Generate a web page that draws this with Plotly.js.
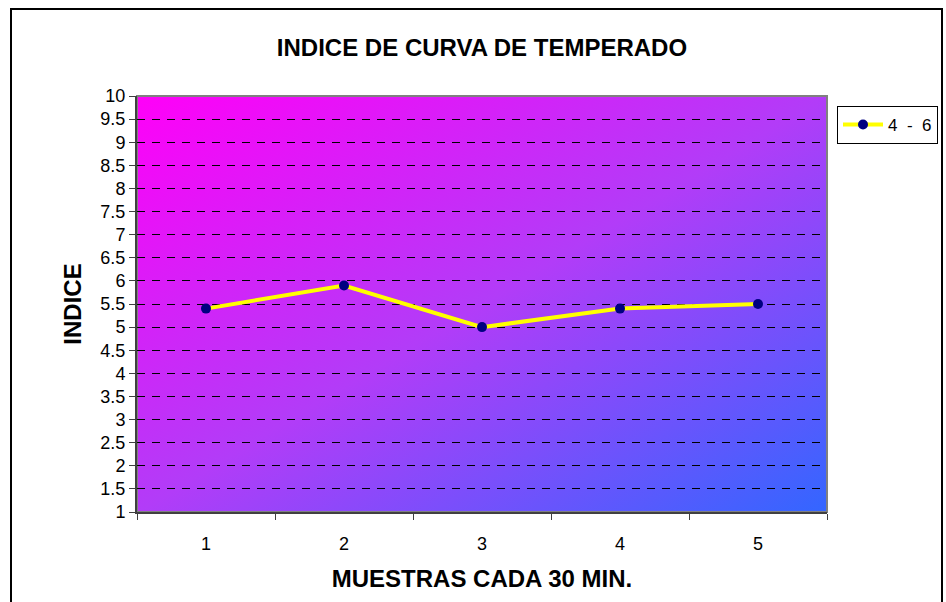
<!DOCTYPE html>
<html>
<head>
<meta charset="utf-8">
<script src="https://cdn.plot.ly/plotly-3.0.1.min.js"></script>
<style>
html,body{margin:0;padding:0;background:#fff;}
#chart{width:946px;height:602px;position:relative;}
#frame{position:absolute;left:10px;top:8px;width:933px;height:600px;border:2px solid #000;box-sizing:border-box;pointer-events:none;z-index:5;}
</style>
</head>
<body>
<div id="chart"></div>
<div id="frame"></div>
<script>
const categories = [1, 2, 3, 4, 5];
const seriesName = "4 &nbsp;- &nbsp;6";
const values = [5.4, 5.9, 5.0, 5.4, 5.5];
const yTickVals = [1,1.5,2,2.5,3,3.5,4,4.5,5,5.5,6,6.5,7,7.5,8,8.5,9,9.5,10];
const yTickText = yTickVals.map(v => String(v));

const gradSvg = '<svg xmlns="http://www.w3.org/2000/svg" width="690" height="416" viewBox="0 0 690 416" preserveAspectRatio="none">' +
  '<defs><linearGradient id="g" x1="0" y1="0" x2="1" y2="1">' +
  '<stop offset="0" stop-color="#FF00F8"/><stop offset="0.5" stop-color="#B23CF8"/><stop offset="1" stop-color="#3366FF"/>' +
  '</linearGradient></defs><rect width="690" height="416" fill="url(#g)"/></svg>';
const gradUri = 'data:image/svg+xml;charset=utf-8,' + encodeURIComponent(gradSvg);

const trace = {
  x: categories,
  y: values,
  name: seriesName,
  type: 'scatter',
  mode: 'lines+markers',
  line: {color: '#FFFF00', width: 4},
  marker: {color: '#000080', size: 10, line: {width: 0}},
  showlegend: true
};

const layout = {
  width: 946,
  height: 602,
  margin: {l: 137, r: 119, t: 96, b: 90},
  paper_bgcolor: 'rgba(0,0,0,0)',
  plot_bgcolor: 'rgba(0,0,0,0)',
  font: {family: 'Liberation Sans, Arial, sans-serif', color: '#000', size: 18},
  title: {
    text: '<b>INDICE DE CURVA DE TEMPERADO</b>',
    font: {family: 'Liberation Sans, Arial, sans-serif', size: 24, color: '#000'},
    x: 0.5, xref: 'paper', xanchor: 'center',
    y: 1 - 48/602, yref: 'container', yanchor: 'middle'
  },
  xaxis: {
    range: [0.5, 5.5],
    tickvals: categories,
    ticktext: categories.map(String),
    ticks: '',
    ticklabelstandoff: 14,
    showgrid: false,
    zeroline: false,
    showline: true,
    linecolor: '#404040',
    linewidth: 2,
    minor: {tick0: 0.5, dtick: 1, ticks: 'outside', ticklen: 6, tickwidth: 1, tickcolor: '#404040', showgrid: false},
    tickfont: {family: 'Liberation Sans, Arial, sans-serif', size: 18, color: '#000'},
    title: {text: '<b>MUESTRAS CADA 30 MIN.</b>', font: {size: 24, color: '#000'}, standoff: 18}
  },
  yaxis: {
    range: [1, 10],
    tickvals: yTickVals,
    ticktext: yTickText,
    ticks: 'outside',
    ticklen: 6,
    tickcolor: '#404040',
    tickwidth: 1,
    showgrid: true,
    gridcolor: '#000',
    gridwidth: 1,
    griddash: '8px,7px',
    zeroline: false,
    showline: true,
    linecolor: '#404040',
    linewidth: 2,
    tickfont: {family: 'Liberation Sans, Arial, sans-serif', size: 18, color: '#000'},
    title: {text: '<b>INDICE</b>', font: {size: 24, color: '#000'}, standoff: 12}
  },
  legend: {
    x: 837/946, xref: 'container', xanchor: 'left',
    y: 1 - 106/602, yref: 'container', yanchor: 'top',
    bgcolor: '#fff',
    bordercolor: '#000',
    borderwidth: 1,
    font: {size: 17, color: '#000'},
    itemwidth: 40,
    tracegroupgap: 0
  },
  images: [{
    source: gradUri,
    xref: 'paper', yref: 'paper',
    x: 0, y: 1, sizex: 1, sizey: 1,
    xanchor: 'left', yanchor: 'top',
    sizing: 'stretch', layer: 'below'
  }],
  shapes: [{
    type: 'rect', xref: 'paper', yref: 'paper', x0: 0, x1: 1, y0: 0, y1: 1,
    line: {color: '#808080', width: 2}, layer: 'below'
  }]
};

Plotly.newPlot('chart', [trace], layout, {displayModeBar: false, staticPlot: true});
</script>
</body>
</html>
